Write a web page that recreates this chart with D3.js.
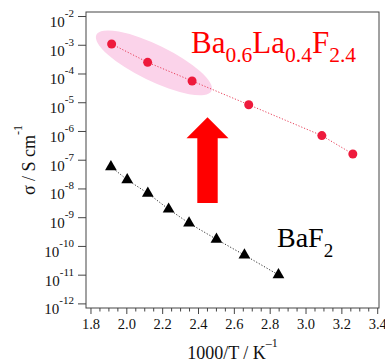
<!DOCTYPE html>
<html>
<head>
<meta charset="utf-8">
<script src="https://cdn.jsdelivr.net/npm/d3@7"></script>
<style>
  body { margin: 0; background: #fff; }
  svg text { font-family: "Liberation Serif", "Times New Roman", Times, "DejaVu Serif", serif; }
</style>
</head>
<body>
<div id="chart"></div>
<script>
// Ba0.6La0.4F2.4 (red circles)
let dopedX = [1.918, 2.119, 2.367, 2.683, 3.091, 3.264];
let dopedSigma = [1.06e-3, 2.45e-4, 5.5e-5, 8.2e-6, 6.9e-7, 1.58e-7];

// BaF2 (black triangles)
let pureX = [1.914, 2.005, 2.120, 2.236, 2.350, 2.503, 2.659, 2.849];
let pureSigma = [5.7e-8, 2.0e-8, 6.8e-9, 1.9e-9, 6.2e-10, 1.7e-10, 4.8e-11, 9.8e-12];

// tick labels
let xTicks = [1.8, 2.0, 2.2, 2.4, 2.6, 2.8, 3.0, 3.2, 3.4];
let yExponents = [-2, -3, -4, -5, -6, -7, -8, -9, -10, -11, -12];

let serif = '"Liberation Serif", "Times New Roman", Times, "DejaVu Serif", serif';

let createChart = function () {
    let width = 385;
    let height = 362;
    let margin = {top: 12, right: 6, bottom: 54, left: 86};

    let svg = d3.select('#chart')
        .append('svg')
        .attr('width', width)
        .attr('height', height)
        .attr('font-family', serif);

    let x = d3.scaleLinear()
        .domain([1.775, 3.41])
        .range([margin.left, width - margin.right]);

    let y = d3.scaleLog()
        .domain([Math.pow(10, -12.16), Math.pow(10, -1.86)])
        .range([height - margin.bottom, margin.top]);

    let axisColor = "#444";

    //highlight ellipse behind the first three doped points
    let ex = x(2.154), ey = y(Math.pow(10, -3.63));
    svg.append("ellipse")
        .attr("cx", ex)
        .attr("cy", ey)
        .attr("rx", 64)
        .attr("ry", 18)
        .attr("transform", `rotate(26, ${ex}, ${ey})`)
        .attr("fill", "#fbd3ea");

    //big red arrow
    let ax = x(2.453), aTop = y(Math.pow(10, -5.52)), aBot = y(Math.pow(10, -8.51));
    let headW = 21, shaftW = 10.2, headL = 21;
    svg.append("path")
        .attr("d", `M${ax},${aTop} L${ax + headW},${aTop + headL} L${ax + shaftW},${aTop + headL}
                    L${ax + shaftW},${aBot} L${ax - shaftW},${aBot} L${ax - shaftW},${aTop + headL}
                    L${ax - headW},${aTop + headL} Z`)
        .attr("fill", "#ff0000");

    //frame
    svg.append("rect")
        .attr("x", margin.left)
        .attr("y", margin.top)
        .attr("width", width - margin.right - margin.left)
        .attr("height", height - margin.bottom - margin.top)
        .attr("fill", "none")
        .attr("stroke", axisColor)
        .attr("stroke-width", 1);

    //x axis: minor then major ticks
    let minor = d3.range(1.8, 3.401, 0.05).filter(v => Math.abs(v * 5 - Math.round(v * 5)) > 1e-6);
    svg.append("g")
        .attr("transform", `translate(0,${height - margin.bottom})`)
        .call(d3.axisBottom(x).tickValues(minor).tickSize(3.5).tickFormat(""))
        .call(g => g.select(".domain").remove())
        .call(g => g.selectAll("line").attr("stroke", axisColor));

    svg.append("g")
        .attr("transform", `translate(0,${height - margin.bottom})`)
        .call(d3.axisBottom(x).tickValues(xTicks).tickSize(6).tickPadding(5).tickFormat(d3.format(".1f")))
        .attr("font-family", serif)
        .call(g => g.select(".domain").remove())
        .call(g => g.selectAll("line").attr("stroke", axisColor))
        .call(g => g.selectAll("text")
            .attr("font-size", 14.5)
            .attr("fill", "#111"));

    //y axis ticks, labels written as 10^n
    let yTickVals = yExponents.map(e => Math.pow(10, e));
    svg.append("g")
        .attr("transform", `translate(${margin.left},0)`)
        .call(d3.axisLeft(y).tickValues(yTickVals).tickSize(8).tickFormat(""))
        .call(g => g.select(".domain").remove())
        .call(g => g.selectAll("line").attr("stroke", axisColor));

    let yLab = svg.append("g")
        .selectAll("text")
        .data(yExponents)
        .join("text")
        .attr("x", margin.left - 12)
        .attr("y", d => y(Math.pow(10, d)) + 11)
        .attr("text-anchor", "end")
        .attr("fill", "#111");
    yLab.append("tspan").attr("font-size", 15).text("10");
    yLab.append("tspan").attr("font-size", 11).attr("dy", -10).text(d => d);

    //axis titles
    let xt = svg.append("text")
        .attr("x", (margin.left + width - margin.right) / 2)
        .attr("y", 358.5)
        .attr("text-anchor", "middle")
        .attr("fill", "#111");
    xt.append("tspan").attr("font-size", 18).text("1000/T / K");
    xt.append("tspan").attr("font-size", 12).attr("dy", -12).text("\u20131");

    let yt = svg.append("text")
        .attr("transform", `translate(35,${(margin.top + height - margin.bottom) / 2}) rotate(-90)`)
        .attr("text-anchor", "middle")
        .attr("fill", "#111");
    yt.append("tspan").attr("font-size", 18).text("\u03c3 / S cm");
    yt.append("tspan").attr("font-size", 12).attr("dy", -13).text("-1");

    //dotted connecting lines
    let line = d3.line().x(d => x(d[0])).y(d => y(d[1]));

    svg.append("path")
        .datum(d3.zip(dopedX, dopedSigma))
        .attr("d", line)
        .attr("fill", "none")
        .attr("stroke", "#e8405a")
        .attr("stroke-width", 1)
        .attr("stroke-dasharray", "1.2,1.8");

    svg.append("path")
        .datum(d3.zip(pureX, pureSigma))
        .attr("d", line)
        .attr("fill", "none")
        .attr("stroke", "#333")
        .attr("stroke-width", 1)
        .attr("stroke-dasharray", "1.2,1.8");

    //markers
    svg.append("g")
        .selectAll("circle")
        .data(d3.zip(dopedX, dopedSigma))
        .join("circle")
        .attr("cx", d => x(d[0]))
        .attr("cy", d => y(d[1]))
        .attr("r", 4.5)
        .attr("fill", "#ee1a3c");

    svg.append("g")
        .selectAll("path")
        .data(d3.zip(pureX, pureSigma))
        .join("path")
        .attr("transform", d => `translate(${x(d[0])},${y(d[1])})`)
        .attr("d", d3.symbol(d3.symbolTriangle, 60))
        .attr("fill", "#000");

    //compound labels
    let l1 = svg.append("text")
        .attr("x", 191)
        .attr("y", 53)
        .attr("fill", "#ff0000");
    l1.append("tspan").attr("font-size", 31).text("Ba");
    l1.append("tspan").attr("font-size", 21.5).attr("dy", 9).text("0.6");
    l1.append("tspan").attr("font-size", 31).attr("dy", -9).text("La");
    l1.append("tspan").attr("font-size", 21.5).attr("dy", 9).text("0.4");
    l1.append("tspan").attr("font-size", 31).attr("dy", -9).text("F");
    l1.append("tspan").attr("font-size", 21.5).attr("dy", 9).text("2.4");

    let l2 = svg.append("text")
        .attr("x", 277)
        .attr("y", 247)
        .attr("fill", "#000");
    l2.append("tspan").attr("font-size", 28).text("BaF");
    l2.append("tspan").attr("font-size", 19).attr("dy", 10).text("2");
};

createChart();
</script>
</body>
</html>
